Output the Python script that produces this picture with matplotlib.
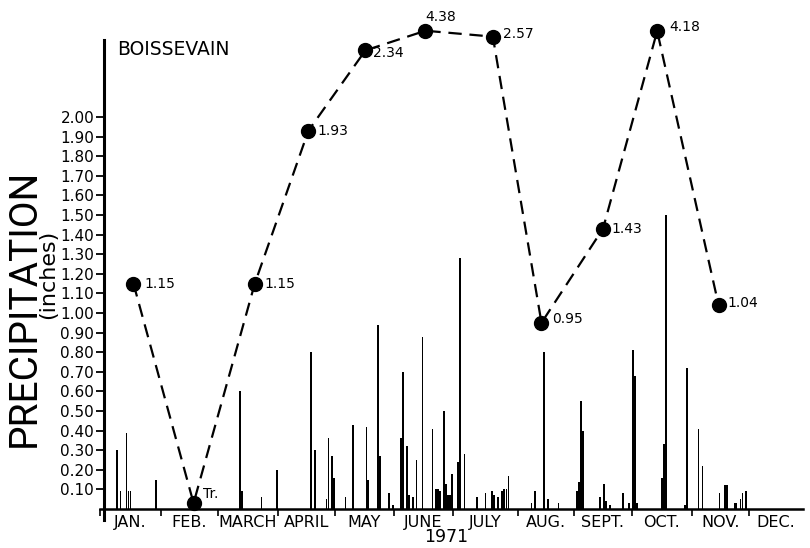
import numpy as np
import matplotlib
matplotlib.use("Agg")
import matplotlib.pyplot as plt

# ---------------- data ----------------
month_labels = ["JAN.", "FEB.", "MARCH", "APRIL", "MAY", "JUNE",
                "JULY", "AUG.", "SEPT.", "OCT.", "NOV.", "DEC."]
month_days = [31, 28, 31, 30, 31, 30, 31, 31, 30, 31, 30, 31]

# monthly totals (Feb = trace, drawn just on the axis)
monthly_total = [1.15, 0.03, 1.15, 1.93, 2.34, 4.38, 2.57, 0.95, 1.43, 4.18, 1.04]
monthly_text = ["1.15", "Tr.", "1.15", "1.93", "2.34", "4.38",
                "2.57", "0.95", "1.43", "4.18", "1.04"]
monthly_day = [17, 47, 78, 106, 136, 167, 200, 225, 258, 286, 318]   # day of year where plotted

# daily rainfall: month (1-12), day of month, amount (inches)
rain_month = ([1] * 6 + [3] * 4 + [4] * 6 + [5] * 8 + [6] * 16 + [7] * 12 +
              [8] * 5 + [9] * 10 + [10] * 8 + [11] * 10)
rain_day = [9, 11, 14, 15, 16, 29,
            12, 13, 23, 31,
            18, 20, 26, 27, 29, 30,
            6, 10, 17, 18, 23, 24, 29, 31,
            4, 5, 7, 8, 10, 12, 15, 20, 22, 23, 24, 26, 27, 28, 29, 30,
            3, 4, 6, 12, 16, 19, 20, 22, 24, 25, 26, 27,
            8, 10, 15, 17, 23,
            2, 3, 4, 5, 14, 16, 17, 19, 26, 29,
            1, 2, 3, 16, 17, 18, 28, 29,
            4, 6, 15, 18, 19, 23, 24, 26, 27, 29]
rain_amount = [0.30, 0.09, 0.39, 0.09, 0.09, 0.15,
               0.60, 0.09, 0.06, 0.20,
               0.80, 0.30, 0.05, 0.36, 0.27, 0.16,
               0.06, 0.43, 0.42, 0.15, 0.94, 0.27, 0.08, 0.02,
               0.36, 0.70, 0.32, 0.07, 0.06, 0.25, 0.88, 0.41, 0.10, 0.10, 0.09,
               0.50, 0.13, 0.07, 0.07, 0.18,
               0.24, 1.28, 0.28, 0.06, 0.08, 0.09, 0.07, 0.06, 0.09, 0.10, 0.10, 0.17,
               0.03, 0.09, 0.80, 0.05, 0.03,
               0.09, 0.14, 0.55, 0.40, 0.06, 0.13, 0.04, 0.02, 0.08, 0.03,
               0.81, 0.68, 0.03, 0.16, 0.33, 1.50, 0.02, 0.72,
               0.41, 0.22, 0.08, 0.12, 0.12, 0.03, 0.03, 0.05, 0.08, 0.09]

y_ticks = [round(0.1 * i, 2) for i in range(1, 21)]

# ---------------- layout / style ----------------
# hand-drawn month boundary positions (relative units) used for the x scale
drawn_bounds = [100, 161, 218, 278, 335, 394, 453, 518, 574, 632, 692, 749, 803]
# label offsets in pixels (dx, dy up) for the monthly total labels
label_off = [(11, 0), (9, 9), (10, 0), (9, 0), (8, -3), (0, 14), (10, 3),
             (11, 4), (8, 0), (12, 4), (9, 2)]

month_start = np.concatenate([[0], np.cumsum(month_days)])

# piecewise-linear x scale (reproduces the drawn month widths)
S = np.asarray(month_start, float)
B = np.asarray(drawn_bounds, float)
S_ext = np.concatenate([[S[0] - 400], S, [S[-1] + 400]])
B_ext = np.concatenate([[B[0] - 400 * (B[1] - B[0]) / (S[1] - S[0])], B,
                        [B[-1] + 400 * (B[-1] - B[-2]) / (S[-1] - S[-2])]])


def xf(d):
    return np.interp(np.asarray(d, float), S_ext, B_ext)


def xi(p):
    return np.interp(np.asarray(p, float), B_ext, S_ext)


# y scale: linear to 2.34, strongly compressed above (as drawn)
T, A, D0, P = 2.34, 0.07, 0.23, 0.164


def yf(v):
    v = np.asarray(v, float)
    d = np.clip(v - T, 0, None)
    with np.errstate(all="ignore"):
        return np.where(v <= T, v, T + A * np.power(d / D0, P))


def yi(y):
    y = np.asarray(y, float)
    e = np.clip((y - T) / A, 0, None)
    with np.errstate(all="ignore"):
        return np.where(y <= T, y, T + D0 * np.power(e, 1.0 / P))


W, H = 810, 548
fig = plt.figure(figsize=(W / 100, H / 100), dpi=100)
fig.patch.set_facecolor("white")

px_per_unit = 196.0
base_px = 509.0
top_px = 20.0
bot_val = -0.06
bot_px = base_px - bot_val * px_per_unit
top_val_scaled = (base_px - top_px) / px_per_unit

ax = fig.add_axes([100 / W, 1 - bot_px / H, 703 / W, (bot_px - top_px) / H])
ax.set_xscale("function", functions=(xf, xi))
ax.set_yscale("function", functions=(yf, yi))
ax.set_xlim(0, 365)
ax.set_ylim(bot_val, float(yi(top_val_scaled)))
ax.set_facecolor("white")

# daily bars
bar_x = [month_start[m - 1] + d - 0.5 for m, d in zip(rain_month, rain_day)]
ax.bar(bar_x, rain_amount, width=0.85, color="black", linewidth=0, zorder=2)

# monthly totals
ax.plot(monthly_day, monthly_total, color="black", lw=1.6,
        linestyle=(0, (6, 3.5)), marker="o", ms=10, mfc="black", mec="black",
        zorder=3, clip_on=False)
for xd, yv, t, (dx, dy) in zip(monthly_day, monthly_total, monthly_text, label_off):
    ax.annotate(t, (xd, yv), xytext=(dx * 0.72, dy * 0.72), textcoords="offset points",
                ha="left", va="center", fontsize=10, color="black", annotation_clip=False)

# spines
for s in ("top", "right"):
    ax.spines[s].set_visible(False)
ax.spines["left"].set_position(("data", 2))
ax.spines["left"].set_bounds(-0.055, float(yi((base_px - 40) / px_per_unit)))
ax.spines["left"].set_linewidth(2.2)
ax.spines["bottom"].set_position(("data", 0))
ax.spines["bottom"].set_bounds(0, 365)
ax.spines["bottom"].set_linewidth(1.8)

# y ticks
ax.set_yticks(y_ticks)
ax.set_yticklabels([f"{v:.2f}" for v in y_ticks])
ax.yaxis.set_minor_locator(matplotlib.ticker.NullLocator())
ax.tick_params(axis="y", which="major", direction="out", length=6, width=1.3,
               pad=1, labelsize=11, colors="black")

# x ticks: month boundaries (marks) + month names (centred)
ax.set_xticks(month_start[:12])
ax.set_xticklabels([""] * 12)
mid = [month_start[i] + month_days[i] / 2 for i in range(12)]
ax.set_xticks(mid, minor=True)
ax.set_xticklabels(month_labels, minor=True)
ax.tick_params(axis="x", which="major", direction="out", length=5, width=1.2)
ax.tick_params(axis="x", which="minor", length=0, pad=4, labelsize=11.5)

# texts
fig.text(117 / W, 1 - 55 / H, "BOISSEVAIN", fontsize=13.5, ha="left", va="baseline")
fig.text(446 / W, 1 - 537 / H, "1971", fontsize=12.5, ha="center", va="center")
fig.text(24 / W, 1 - 308 / H, "PRECIPITATION", fontsize=28, rotation=90,
         ha="center", va="center", family=["Roboto", "DejaVu Sans"])
fig.text(48.5 / W, 1 - 274.5 / H, "(inches)", fontsize=16, rotation=90,
         ha="center", va="center")

fig.savefig("out.png", dpi=100, facecolor="white")
